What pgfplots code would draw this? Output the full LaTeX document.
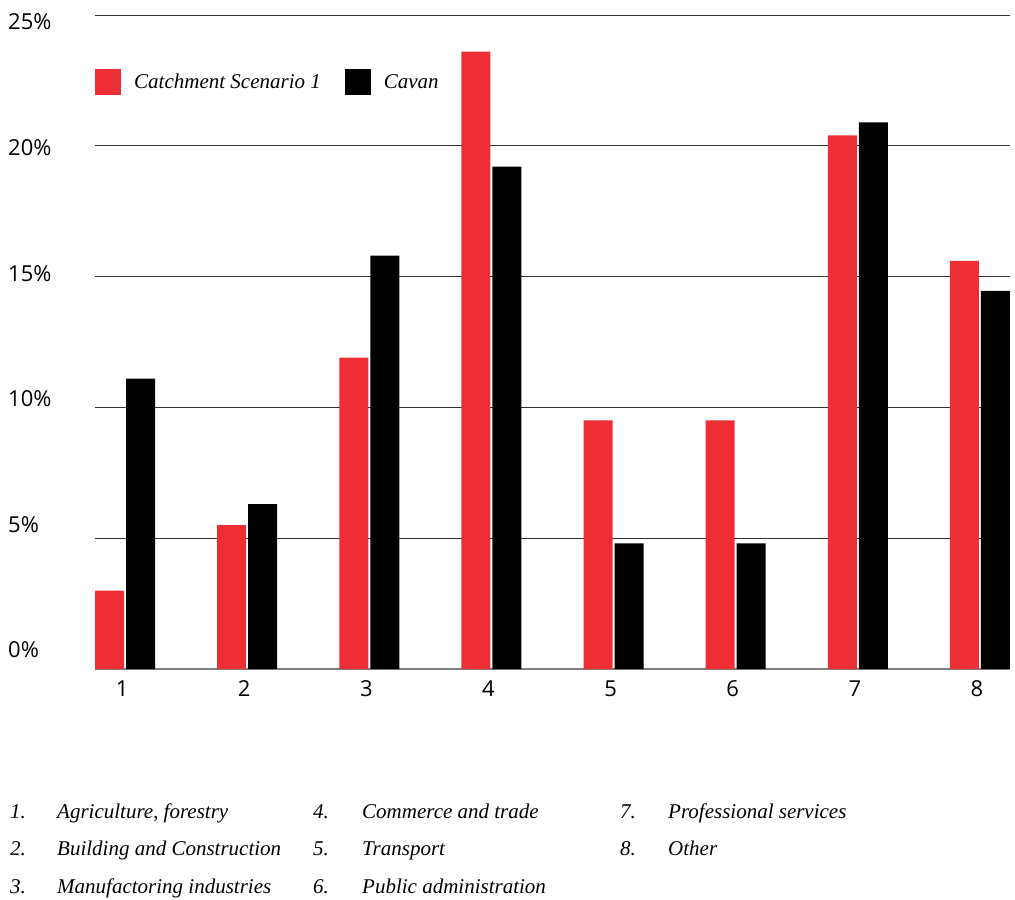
\documentclass[border=0pt]{standalone}
\usepackage{pgfplots}
\pgfplotsset{compat=1.18}
\usepackage{fontspec}
\setmainfont{Liberation Serif}
\newfontfamily\sansf{Open Sans}
\definecolor{cred}{RGB}{238,46,53}
\begin{document}
\begin{tikzpicture}
\path[use as bounding box] (0,0) rectangle (1015bp,-900bp);
\begin{axis}[
  at={(95bp,-669bp)}, anchor=south west,
  scale only axis, width=915bp, height=654bp,
  xmin=0.754, xmax=8.246, ymin=0, ymax=25,
  ybar=2bp, bar width=29bp,
  axis x line*=bottom, axis y line*=left,
  y axis line style={draw=none},
  x axis line style={draw=black!50, line width=1.6bp},
  major tick length=0pt,
  xtick={1,...,8},
  ytick={0,5,...,25},
  ymajorgrids, major grid style={draw=black!80, line width=0.9bp},
  /pgf/number format/assume math mode=true,
  yticklabel={\pgfmathprintnumber{\tick}\%},
  tick label style={font=\sansf\fontsize{22bp}{26bp}\selectfont},
  yticklabel style={anchor=west, inner sep=0pt, xshift=-87bp, yshift={(19-5.2*\ticknum)*1bp}},
  xticklabel style={yshift=-8bp, xshift=-3bp},
  legend style={at={(0,0.897)}, anchor=west, draw=none, fill=none, inner xsep=0pt, inner ysep=0pt,
    font=\itshape\fontsize{21bp}{25bp}\selectfont, legend columns=2,
    /tikz/every odd column/.append style={column sep=11bp},
    /tikz/every even column/.append style={column sep=22bp}},
  legend image code/.code={\fill[#1] (0bp,-13bp) rectangle (26bp,13bp);},
  legend cell align=left,
]
\addplot[fill=cred, draw=none] coordinates {(1,3.0) (2,5.5) (3,11.9) (4,23.6) (5,9.5) (6,9.5) (7,20.4) (8,15.6)};
\addplot[fill=black, draw=none] coordinates {(1,11.1) (2,6.3) (3,15.8) (4,19.2) (5,4.8) (6,4.8) (7,20.9) (8,14.45)};
\legend{Catchment Scenario 1, Cavan}
\end{axis}
\begin{scope}[every node/.style={anchor=base west, inner sep=0pt, font=\itshape\fontsize{21bp}{25bp}\selectfont}]
\node at (10bp,-818bp) {1.}; \node at (57bp,-818bp) {Agriculture, forestry};
\node at (10bp,-855bp) {2.}; \node at (57bp,-855bp) {Building and Construction};
\node at (10bp,-893bp) {3.}; \node at (57bp,-893bp) {Manufactoring industries};
\node at (313bp,-818bp) {4.}; \node at (362bp,-818bp) {Commerce and trade};
\node at (313bp,-855bp) {5.}; \node at (362bp,-855bp) {Transport};
\node at (313bp,-893bp) {6.}; \node at (362bp,-893bp) {Public administration};
\node at (620bp,-818bp) {7.}; \node at (668bp,-818bp) {Professional services};
\node at (620bp,-855bp) {8.}; \node at (668bp,-855bp) {Other};
\end{scope}
\end{tikzpicture}
\end{document}
